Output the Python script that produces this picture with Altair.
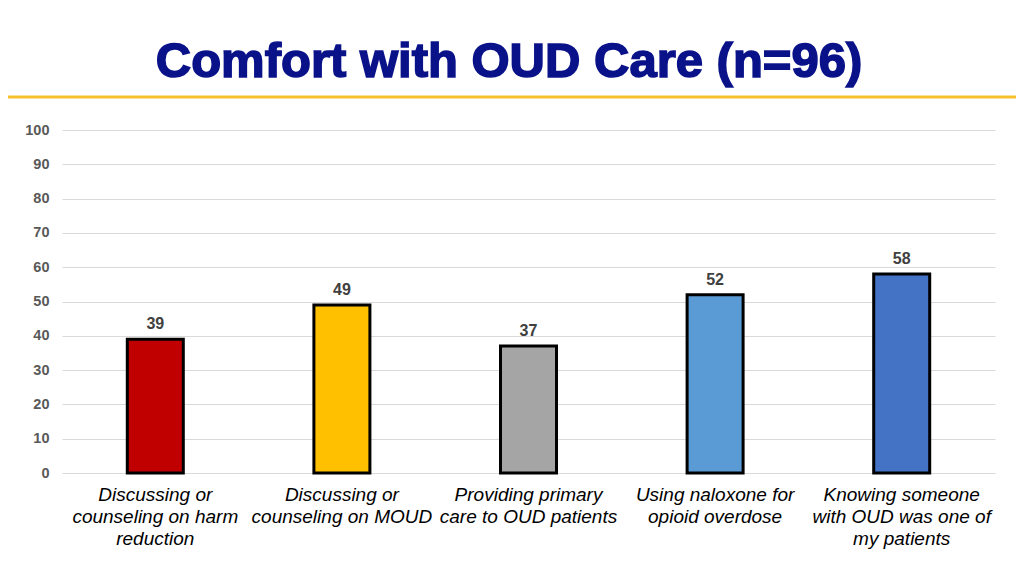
import altair as alt
import pandas as pd

categories = [
    "Discussing or|counseling on harm|reduction",
    "Discussing or|counseling on MOUD",
    "Providing primary|care to OUD patients",
    "Using naloxone for|opioid overdose",
    "Knowing someone|with OUD was one of|my patients",
]
values = [39, 49, 37, 52, 58]
colors = ["#C00000", "#FFC000", "#A5A5A5", "#5B9BD5", "#4472C4"]
y_ticks = [0, 10, 20, 30, 40, 50, 60, 70, 80, 90, 100]
title_text = "Comfort with OUD Care (n=96)"

df = pd.DataFrame({"cat": categories, "val": values, "color": colors})

W, H = 933, 343
PL, PT, PR, PB = 54, 122, 21, 95

x = alt.X("cat:N", sort=categories, title=None,
          scale=alt.Scale(paddingInner=0.1, paddingOuter=0.05),
          axis=alt.Axis(labelAngle=0, labelExpr="split(datum.label, '|')",
                        labelFont="Liberation Sans", labelFontSize=19,
                        labelFontStyle="italic", labelColor="#000000",
                        labelLineHeight=22, labelLimit=0, labelPadding=12,
                        domain=False, ticks=False, labelBaseline="top"))
y = alt.Y("val:Q", title=None,
          scale=alt.Scale(domain=[0, 100], nice=False),
          axis=alt.Axis(values=y_ticks, domain=False, ticks=False,
                        labelOverlap=False,
                        labelFont="Liberation Sans", labelFontSize=14.5,
                        labelFontWeight="bold", labelColor="#595959",
                        labelPadding=13, gridColor="#D9D9D9", gridWidth=1))

base = alt.Chart(df)

bars = base.mark_bar(size=56, stroke="#000000", strokeWidth=3).encode(
    x=x, y=y, color=alt.Color("color:N", scale=None))

labels = base.mark_text(dy=-15, font="Liberation Sans", fontSize=16,
                        fontWeight="bold", color="#404040").encode(
    x=x, y=y, text="val:Q")

tdf = pd.DataFrame({"t": [title_text]})
title = alt.Chart(tdf).mark_text(font="Liberation Sans", fontSize=49,
                                 fontWeight="bold", color="#0A1289",
                                 stroke="#0A1289", strokeWidth=1.6,
                                 align="center", baseline="middle").encode(
    x=alt.value(447), y=alt.value(-68), text="t:N")

gold = alt.Chart(tdf).mark_rule(color="#F5C02A", strokeWidth=3).encode(
    x=alt.value(-PL), x2=alt.value(W + PR), y=alt.value(-33))

chart = alt.layer(gold, title, bars, labels).properties(
    width=W, height=H,
    autosize=alt.AutoSizeParams(type="none"),
    padding={"left": PL, "top": PT, "right": PR, "bottom": PB},
).configure_view(stroke=None)

chart.save("out.html", embed_options={"renderer": "svg", "actions": False})
